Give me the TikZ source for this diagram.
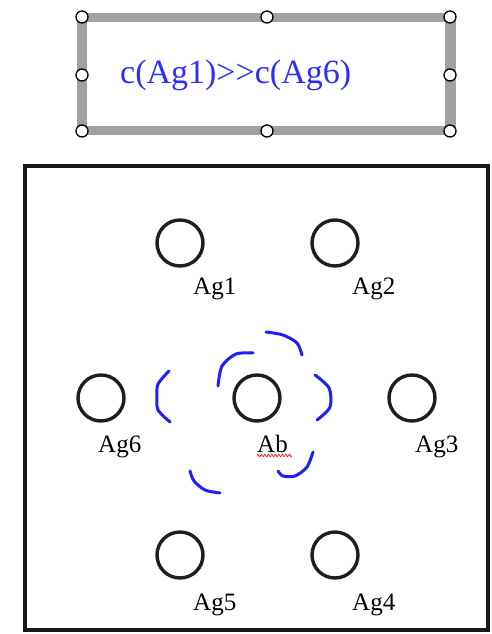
\documentclass[tikz,border=0pt]{standalone}
\usepackage{fontspec}
\setmainfont{Liberation Serif}
\usetikzlibrary{patterns,decorations.pathmorphing}
\definecolor{txtblue}{RGB}{45,45,255}
\definecolor{dashblue}{RGB}{30,30,255}
\definecolor{welldark}{RGB}{30,30,30}
\pgfdeclarepatternformonly{finedots}{\pgfqpoint{-1pt}{-1pt}}{\pgfqpoint{1pt}{1pt}}{\pgfqpoint{2pt}{2pt}}{%
  \pgfpathcircle{\pgfqpoint{0pt}{0pt}}{0.8pt}\pgfusepath{fill}}
\tikzset{
  well/.style={circle, draw=welldark, line width=3.4pt, minimum size=46pt, inner sep=0pt},
  wlabel/.style={anchor=base west, inner sep=0pt, font=\fontsize{25}{25}\selectfont},
  handle/.style={circle, draw=black, line width=1.3pt, fill=white, minimum size=12pt, inner sep=0pt},
  bluedash/.style={draw=dashblue, line width=3pt, line cap=round, line join=round},
}
\begin{document}
\begin{tikzpicture}[x=1pt,y=-1pt]
\useasboundingbox (0,0) rectangle (492,634);
% text box with dotted selection frame
\fill[pattern=finedots, pattern color=black!75, even odd rule]
  (77,13) rectangle (456,135) (87,22) rectangle (445,126);
\node[handle] (h1) at (82,17) {};
\node[handle] (h2) at (267,17) {};
\node[handle] (h3) at (450,17) {};
\node[handle] (h4) at (82,75) {};
\node[handle] (h5) at (450,75) {};
\node[handle] (h6) at (82,131) {};
\node[handle] (h7) at (267,131) {};
\node[handle] (h8) at (450,131) {};
\node[anchor=base west, inner sep=0pt, text=txtblue, font=\fontsize{34}{34}\selectfont] (title) at (120,83) {c(Ag1){>}{>}c(Ag6)};
% plate
\draw[line width=4pt, draw=black!90] (25,165.5) rectangle (487.5,630);
% wells
\node[well] (ag1) at (180,243) {};
\node[well] (ag2) at (335,243) {};
\node[well] (ag6) at (101,398) {};
\node[well] (ab)  at (257,398) {};
\node[well] (ag3) at (412,398) {};
\node[well] (ag5) at (180,555) {};
\node[well] (ag4) at (335,555) {};
% labels
\node[wlabel] (l1) at (193,294) {Ag1};
\node[wlabel] (l2) at (352,294) {Ag2};
\node[wlabel] (l6) at (98,452) {Ag6};
\node[wlabel] (lab) at (257,452) {Ab};
\node[wlabel] (l3) at (415,452) {Ag3};
\node[wlabel] (l5) at (193,610) {Ag5};
\node[wlabel] (l4) at (352,610) {Ag4};
\draw[red, line width=0.6pt, decorate, decoration={zigzag, amplitude=1.3pt, segment length=3.5pt}] (257,455.5) -- (292,455.5);
% dashed precipitation arcs
\draw[bluedash] plot[smooth] coordinates {(169,371) (158,384) (157,397) (158,410) (170,422)};
\draw[bluedash] plot[smooth] coordinates {(218,386) (222,366) (236,354) (253,353)};
\draw[bluedash] plot[smooth] coordinates {(266,332) (283,335) (297,343) (302,355)};
\draw[bluedash] plot[smooth] coordinates {(315,375) (329,388) (330,407) (317,420)};
\draw[bluedash] plot[smooth] coordinates {(190,471) (194,481) (205,490) (220,493)};
\draw[bluedash] plot[smooth] coordinates {(313,452) (307,467) (295,476) (283,476) (278,471)};
\end{tikzpicture}
\end{document}
